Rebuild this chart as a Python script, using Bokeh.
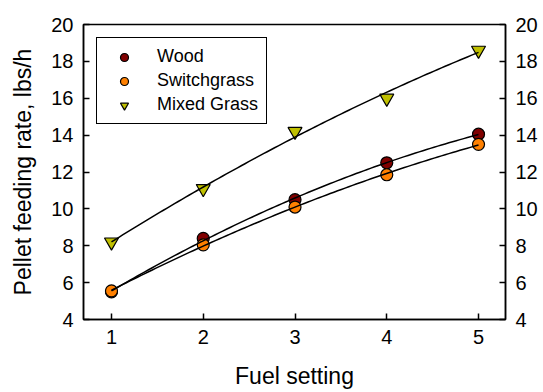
import numpy as np
from bokeh.plotting import figure
from bokeh.models import LinearAxis, Range1d, Legend, LegendItem, FixedTicker
from bokeh.embed import file_html
from bokeh.resources import INLINE

fuel_setting = [1, 2, 3, 4, 5]
wood = [5.5, 8.4, 10.5, 12.5, 14.05]
switchgrass = [5.55, 8.05, 10.1, 11.85, 13.5]
mixed_grass = [8.2, 11.1, 14.2, 16.0, 18.6]
x_ticks = [1, 2, 3, 4, 5]
y_ticks = [4, 6, 8, 10, 12, 14, 16, 18, 20]

FONT = "Liberation Sans"

p = figure(frame_width=422, frame_height=295, output_backend="svg", toolbar_location=None,
           x_range=Range1d(0.695, 5.294), y_range=Range1d(4, 20),
           min_border_left=83, min_border_top=24, min_border_right=30, min_border_bottom=60)
p.grid.visible = False
p.outline_line_color = "black"
p.outline_line_width = 1.5
p.outline_line_alpha = 1
p.background_fill_color = "white"
p.border_fill_color = "white"

def style_axis(ax):
    ax.major_tick_in = 6
    ax.major_tick_out = 0
    ax.minor_tick_in = 0
    ax.minor_tick_out = 0
    ax.axis_line_width = 1.5
    ax.major_tick_line_width = 1.5
    ax.major_label_text_font = FONT
    ax.major_label_text_font_size = "20px"
    ax.major_label_text_color = "black"
    ax.axis_label_text_font = FONT
    ax.axis_label_text_font_size = "23px"
    ax.axis_label_text_font_style = "normal"
    ax.axis_label_text_color = "black"
    ax.major_label_standoff = 10

p.xaxis.ticker = FixedTicker(ticks=x_ticks)
p.yaxis.ticker = FixedTicker(ticks=y_ticks)
p.xaxis.axis_label = "Fuel setting"
p.yaxis.axis_label = "Pellet feeding rate, lbs/h"
style_axis(p.xaxis[0])
style_axis(p.yaxis[0])
p.xaxis.axis_label_standoff = 16
p.yaxis.axis_label_standoff = 12

ry = LinearAxis(ticker=FixedTicker(ticks=y_ticks))
style_axis(ry)
p.add_layout(ry, "right")

series = [("Wood", wood, "#800000", "circle"),
          ("Switchgrass", switchgrass, "#ff8000", "circle"),
          ("Mixed Grass", mixed_grass, "#c0c000", "inverted_triangle")]

items = []
for name, ys, col, mk in series:
    r = p.scatter(fuel_setting, ys, marker=mk, size=12 if mk == "circle" else 14,
                  fill_color=col, line_color="black", line_width=1.2)
    items.append(LegendItem(label=name, renderers=[r]))

xs = np.linspace(min(fuel_setting), max(fuel_setting), 100)
for name, ys, col, mk in series:
    c = np.polyfit(fuel_setting, ys, 2)
    p.line(xs, np.polyval(c, xs), line_color="black", line_width=1.5)

leg = Legend(items=items, location="top_left")
leg.border_line_color = "black"
leg.border_line_alpha = 1
leg.border_line_width = 1.5
leg.label_text_font = FONT
leg.label_text_font_size = "18px"
leg.label_text_color = "black"
leg.padding = 8
leg.spacing = 3
leg.glyph_width = 38
leg.glyph_height = 20
leg.label_height = 20
leg.label_standoff = 14
leg.margin = 13
leg.background_fill_alpha = 1
p.add_layout(leg)

open("out.html", "w").write(file_html(p, INLINE))
